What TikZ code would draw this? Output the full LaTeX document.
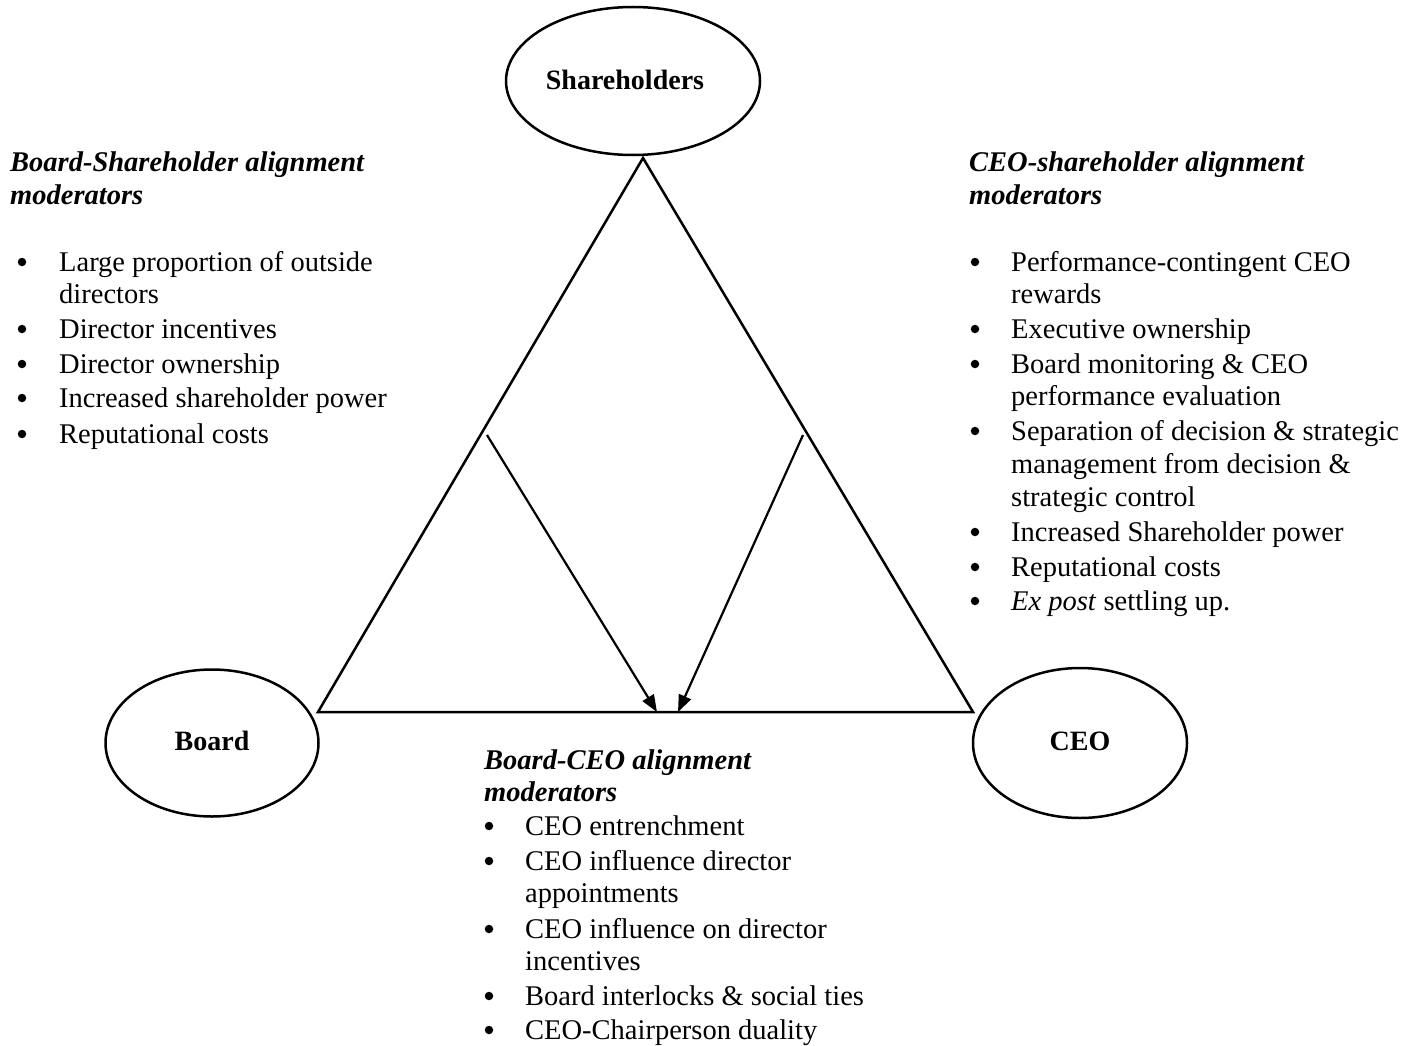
\documentclass[tikz,border=0pt]{standalone}
\usepackage{fontspec}
\setmainfont{Liberation Serif}
\usetikzlibrary{arrows.meta,shapes.geometric}
\begin{document}
\begin{tikzpicture}[x=1pt,y=-1pt,
  actor/.style={draw, ellipse, line width=2.5pt, inner sep=0pt,
    font=\fontsize{28}{32}\selectfont\bfseries},
  side/.style={line width=2.5pt, line join=miter},
  link/.style={line width=2.2pt, -{Triangle[length=17pt,width=13pt]}},
  txt/.style={anchor=base west, inner sep=0pt, font=\fontsize{28.5}{33}\selectfont},
  head/.style={anchor=base west, inner sep=0pt, font=\fontsize{28.5}{33}\selectfont\bfseries\itshape},
  dot/.style={circle, fill, inner sep=0pt, minimum size=8.5pt}]
\useasboundingbox (0,0) rectangle (1402,1046);

% the three parties
\node[actor, minimum width=254pt, minimum height=148pt] (sh) at (633,81)
  {\raisebox{3pt}{Shareholders}\hspace*{16pt}};
\node[actor, minimum width=213pt, minimum height=147pt] (bd) at (212,743)
  {\raisebox{4pt}{Board}};
\node[actor, minimum width=214pt, minimum height=150pt] (ceo) at (1080,743)
  {\raisebox{4pt}{CEO}};

% triangle of relationships
\coordinate (top) at (643,158);
\coordinate (bl) at (318,712);
\coordinate (br) at (973,712);
\draw[side] (bl) -- (top) -- (br) -- cycle;

% moderators acting on the Board-CEO side
\coordinate (la) at (487,435);
\coordinate (ra) at (803,435);
\coordinate (lt) at (657,712);
\coordinate (rt) at (678,712);
\draw[link] (la) -- (lt);
\draw[link] (ra) -- (rt);

% Board-Shareholder moderators
\node[head] (l0) at (10,171) {Board-Shareholder alignment};
\node[head] (l1) at (10,204) {moderators};
\foreach \y in {271,338,373,407,443} \node[dot] at (22,\y-9) {};
\node[txt] (l2) at (59,271) {Large proportion of outside};
\node[txt] (l3) at (59,303) {directors};
\node[txt] (l4) at (59,338) {Director incentives};
\node[txt] (l5) at (59,373) {Director ownership};
\node[txt] (l6) at (59,407) {Increased shareholder power};
\node[txt] (l7) at (59,443) {Reputational costs};

% CEO-shareholder moderators
\node[head] (r0) at (969,171) {CEO-shareholder alignment};
\node[head] (r1) at (969,204) {moderators};
\foreach \y in {271,338,373,440,541,576,610} \node[dot] at (975,\y-9) {};
\node[txt] (r2) at (1011,271) {Performance-contingent CEO};
\node[txt] (r3) at (1011,303) {rewards};
\node[txt] (r4) at (1011,338) {Executive ownership};
\node[txt] (r5) at (1011,373) {Board monitoring \& CEO};
\node[txt] (r6) at (1011,405) {performance evaluation};
\node[txt] (r7) at (1011,440) {Separation of decision \& strategic};
\node[txt] (r8) at (1011,473) {management from decision \&};
\node[txt] (r9) at (1011,506) {strategic control};
\node[txt] (r10) at (1011,541) {Increased Shareholder power};
\node[txt] (r11) at (1011,576) {Reputational costs};
\node[txt] (r12) at (1011,610) {\textit{Ex post} settling up.};

% Board-CEO moderators
\node[head] (b0) at (484,769) {Board-CEO alignment};
\node[head] (b1) at (484,801) {moderators};
\foreach \y in {835,870,938,1005,1039} \node[dot] at (489,\y-9) {};
\node[txt] (b2) at (525,835) {CEO entrenchment};
\node[txt] (b3) at (525,870) {CEO influence director};
\node[txt] (b4) at (525,902) {appointments};
\node[txt] (b5) at (525,938) {CEO influence on director};
\node[txt] (b6) at (525,970) {incentives};
\node[txt] (b7) at (525,1005) {Board interlocks \& social ties};
\node[txt] (b8) at (525,1039) {CEO-Chairperson duality};
\end{tikzpicture}
\end{document}
